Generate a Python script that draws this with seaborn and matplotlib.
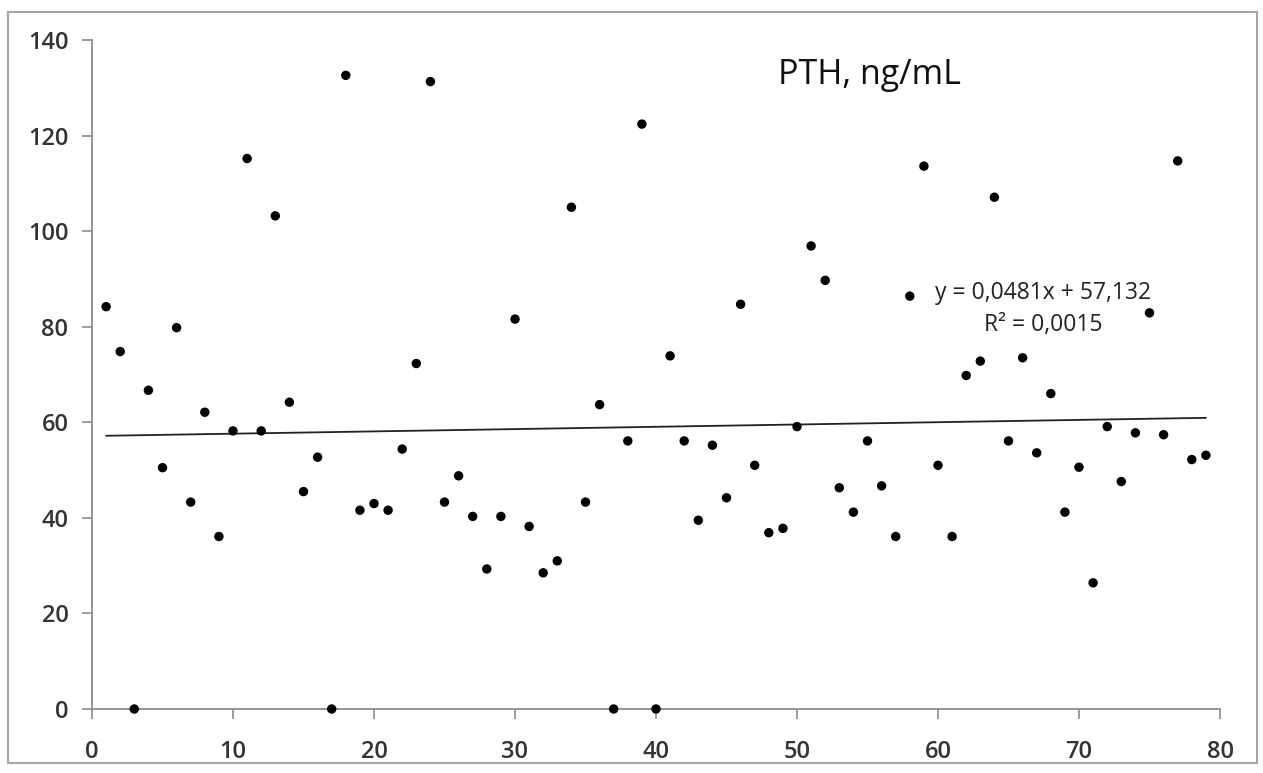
import matplotlib
matplotlib.use("Agg")
import matplotlib.pyplot as plt
from matplotlib.patches import Rectangle
import numpy as np
import pandas as pd
import seaborn as sns

# patient index and PTH values (ng/mL)
patient = list(range(1, 80))
pth = [84.2, 74.8, 0.0, 66.7, 50.5, 79.8, 43.3, 62.1, 36.1, 58.2,
       115.2, 58.2, 103.2, 64.2, 45.5, 52.7, 0.0, 132.6, 41.6, 43.0,
       41.6, 54.4, 72.3, 131.3, 43.3, 48.8, 40.3, 29.3, 40.3, 81.6,
       38.2, 28.5, 31.0, 105.0, 43.3, 63.7, 0.0, 56.1, 122.4, 0.0,
       73.9, 56.1, 39.5, 55.2, 44.2, 84.7, 51.0, 36.9, 37.8, 59.1,
       96.9, 89.7, 46.3, 41.2, 56.1, 46.7, 36.1, 86.4, 113.6, 51.0,
       36.1, 69.8, 72.8, 107.1, 56.1, 73.5, 53.6, 66.0, 41.2, 50.6,
       26.4, 59.1, 47.6, 57.8, 82.9, 57.4, 114.7, 52.2, 53.1]

# linear trend as printed on the chart
slope = 0.0481
intercept = 57.132
r2 = 0.0015

xticks = [0, 10, 20, 30, 40, 50, 60, 70, 80]
yticks = [0, 20, 40, 60, 80, 100, 120, 140]

df = pd.DataFrame({"x": patient, "y": pth})
trend = pd.DataFrame({"x": [patient[0], patient[-1]]})
trend["y"] = intercept + slope * trend["x"]

sns.set_style("white")
plt.rcParams['font.family'] = ['Open Sans', 'DejaVu Sans']

fig = plt.figure(figsize=(12.63, 7.73), dpi=100)
ax = fig.add_axes([92 / 1263, 1 - 709 / 773, (1220 - 92) / 1263, (709 - 40) / 773])

sns.lineplot(data=trend, x="x", y="y", ax=ax, color="#222222", linewidth=1.3)
sns.scatterplot(data=df, x="x", y="y", ax=ax, color="black", s=46,
                edgecolor="none", zorder=3, clip_on=False)

ax.set_xlim(0, 80)
ax.set_ylim(0, 140)
ax.set_xticks(xticks)
ax.set_yticks(yticks)
ax.set_xlabel('')
ax.set_ylabel('')

for side in ['top', 'right']:
    ax.spines[side].set_visible(False)
for side in ['left', 'bottom']:
    ax.spines[side].set_color('#8c8c8c')
    ax.spines[side].set_linewidth(1.3)

ax.tick_params(axis='both', direction='out', length=7, width=1.2,
               color='#8c8c8c', labelsize=17, labelcolor='#333333',
               left=True, bottom=True)
ax.tick_params(axis='y', pad=10)
ax.tick_params(axis='x', pad=15)
for lbl in ax.get_xticklabels() + ax.get_yticklabels():
    lbl.set_fontweight(600)

ax.text(0.608, 0.948, 'PTH, ng/mL', transform=ax.transAxes,
        fontsize=24.5, color='#111111', ha='left', va='center')

eq = f"y = {slope:.4f}x + {intercept:.3f}".replace('.', ',')
rr = f"R² = {r2:.4f}".replace('.', ',')
ax.text(0.843, 0.598, eq + "\n" + rr, transform=ax.transAxes,
        fontsize=16.5, color='#222222', ha='center', va='center',
        multialignment='center', linespacing=1.45)

# outer chart frame
fig.patches.append(Rectangle((8 / 1263, 1 - 763 / 773), (1257 - 8) / 1263,
                             (763 - 12) / 773, transform=fig.transFigure,
                             fill=False, edgecolor='#a6a6a6', linewidth=1.5))

plt.savefig('out.png', dpi=100)
plt.close()
